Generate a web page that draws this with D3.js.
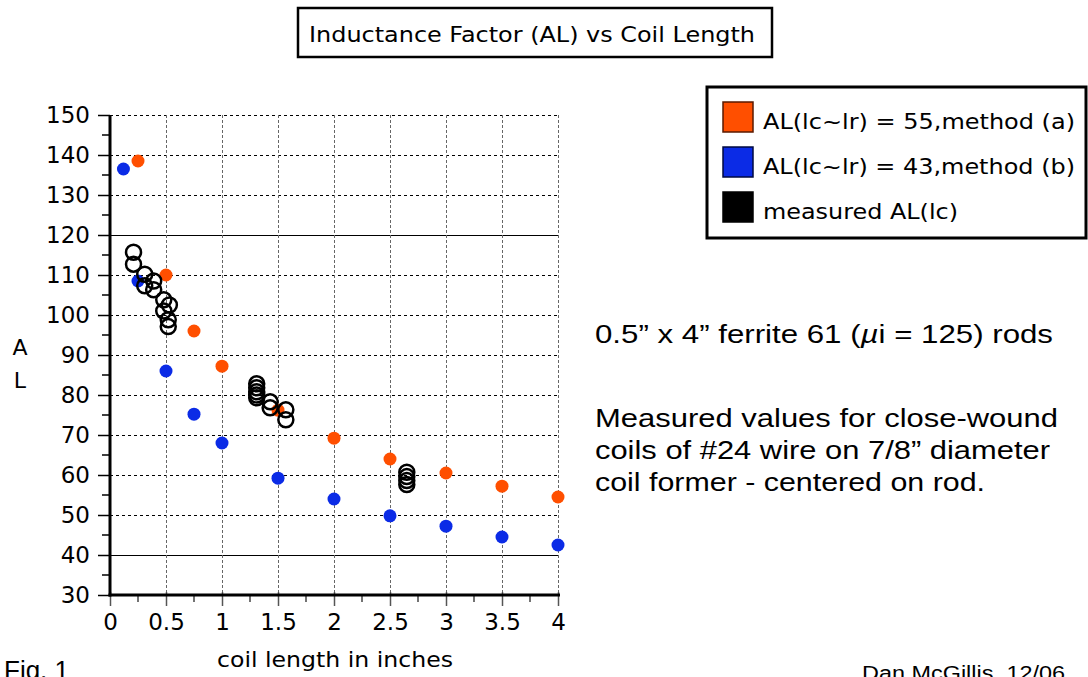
<!DOCTYPE html>
<html>
<head>
<meta charset="utf-8">
<script src="https://cdn.jsdelivr.net/npm/d3@7"></script>
<style>
  body { margin: 0; background: #fff; }
  svg { display: block; }
</style>
</head>
<body>
<svg id="chart" width="1088" height="677"></svg>
<script>
// method (a) and (b) computed values
const calcLengths = [0.25, 0.5, 0.75, 1.0, 1.5, 2.0, 2.5, 3.0, 3.5, 4.0];
const methodA = [138.5, 110, 96, 87.2, 76.2, 69.2, 64, 60.5, 57.2, 54.5];
const blueLengths = [0.12, 0.25, 0.5, 0.75, 1.0, 1.5, 2.0, 2.5, 3.0, 3.5, 4.0];
const methodB = [136.5, 108.5, 86, 75.2, 68, 59.2, 54, 49.8, 47.2, 44.5, 42.5];

// measured AL(lc)
const measLengths = [0.21, 0.21, 0.31, 0.31, 0.39, 0.39, 0.48, 0.53, 0.48, 0.52, 0.52,
  1.31, 1.31, 1.31, 1.31, 1.31, 1.43, 1.43, 1.57, 1.57, 2.65, 2.65, 2.65, 2.65];
const measAL = [115.7, 112.7, 110.2, 107.3, 108.5, 106.3, 103.8, 102.5, 101, 98.8, 97.1,
  82.8, 81.8, 80.8, 80, 79.3, 78.3, 76.8, 76.3, 73.8, 60.7, 59.6, 58.6, 57.6];

const xTicks = [0, 0.5, 1, 1.5, 2, 2.5, 3, 3.5, 4];
const yTicks = [30, 40, 50, 60, 70, 80, 90, 100, 110, 120, 130, 140, 150];

const legendLabels = ["AL(lc~lr) = 55,method (a)", "AL(lc~lr) = 43,method (b)", "measured AL(lc)"];
const legendColors = ["#ff4f00", "#0b2be6", "#000"];
const legendStrokes = ["#5a1a00", "#000a40", "#000"];

const orange = "#ff4f00";
const blue = "#0b2be6";
const tickFont = "'DejaVu Sans', sans-serif";
const helv = "'Liberation Sans', Arial, sans-serif";

const svg = d3.select("#chart");

const x = d3.scaleLinear().domain([0, 4]).range([110, 558]);
const y = d3.scaleLinear().domain([30, 150]).range([595, 115]);

// fit a text to a measured width from the reference
function fit(sel, w) {
  sel.attr("textLength", w).attr("lengthAdjust", "spacingAndGlyphs");
  return sel;
}

// title box
svg.append("rect").attr("x", 298).attr("y", 8).attr("width", 474).attr("height", 49)
  .attr("fill", "none").attr("stroke", "#000").attr("stroke-width", 2.5);
fit(svg.append("text").attr("x", 309).attr("y", 42)
  .style("font-family", tickFont).style("font-size", "22px")
  .text("Inductance Factor (AL) vs Coil Length"), 446);

// grid
const grid = svg.append("g").attr("shape-rendering", "crispEdges");
grid.selectAll("line.h").data(yTicks.filter(d => d > 30)).join("line")
  .attr("x1", x(0)).attr("x2", x(4))
  .attr("y1", d => y(d) + 0.5).attr("y2", d => y(d) + 0.5)
  .attr("stroke", "#000").attr("stroke-width", 1)
  .attr("stroke-dasharray", d => (d === 120 || d === 40) ? null : "3,3");
grid.selectAll("line.v").data(xTicks.filter(d => d > 0)).join("line")
  .attr("x1", d => x(d) + 0.5).attr("x2", d => x(d) + 0.5)
  .attr("y1", y(150)).attr("y2", y(30))
  .attr("stroke", "#666").attr("stroke-width", 1)
  .attr("stroke-dasharray", "3,2");

// y axis
const yAxis = d3.axisLeft(y).tickValues(yTicks).tickSize(12).tickPadding(8);
const gy = svg.append("g").attr("transform", `translate(${x(0)},0)`).call(yAxis);
gy.select(".domain").remove();
gy.selectAll(".tick line").attr("stroke", "#000").attr("stroke-width", 1.5);
gy.selectAll(".tick text").style("font-family", tickFont).style("font-size", "23px").attr("fill", "#000");
const yMinor = d3.range(35, 150, 10);
svg.append("g").selectAll("line").data(yMinor).join("line")
  .attr("x1", x(0) - 8).attr("x2", x(0)).attr("y1", d => y(d)).attr("y2", d => y(d))
  .attr("stroke", "#000").attr("stroke-width", 1.5);

// x axis
const xAxis = d3.axisBottom(x).tickValues(xTicks).tickSize(11).tickPadding(8)
  .tickFormat(d => String(d));
const gx = svg.append("g").attr("transform", `translate(0,${y(30)})`).call(xAxis);
gx.select(".domain").remove();
gx.selectAll(".tick line").attr("stroke", "#555").attr("stroke-width", 1.5).attr("y1", -3);
gx.selectAll(".tick text").style("font-family", tickFont).style("font-size", "23px").attr("fill", "#000");
const xMinor = d3.range(0.25, 4, 0.5);
svg.append("g").selectAll("line").data(xMinor).join("line")
  .attr("x1", d => x(d)).attr("x2", d => x(d)).attr("y1", y(30)).attr("y2", y(30) + 7)
  .attr("stroke", "#444").attr("stroke-width", 1.5);

// axis lines
svg.append("line").attr("x1", x(0)).attr("x2", x(0)).attr("y1", y(150)).attr("y2", y(30) + 1.5)
  .attr("stroke", "#000").attr("stroke-width", 3);
svg.append("line").attr("x1", x(0) - 1.5).attr("x2", x(4) + 2).attr("y1", y(30)).attr("y2", y(30))
  .attr("stroke", "#000").attr("stroke-width", 3);

// axis titles
svg.append("text").attr("x", 20).attr("y", 355).attr("text-anchor", "middle")
  .style("font-family", tickFont).style("font-size", "22px").text("A");
svg.append("text").attr("x", 20).attr("y", 388).attr("text-anchor", "middle")
  .style("font-family", tickFont).style("font-size", "22px").text("L");
fit(svg.append("text").attr("x", 217).attr("y", 667)
  .style("font-family", tickFont).style("font-size", "22px")
  .text("coil length in inches"), 236);

// data
svg.append("g").selectAll("circle").data(calcLengths).join("circle")
  .attr("cx", d => x(d)).attr("cy", (d, i) => y(methodA[i])).attr("r", 6.5)
  .attr("fill", orange);
svg.append("g").selectAll("circle").data(blueLengths).join("circle")
  .attr("cx", d => x(d)).attr("cy", (d, i) => y(methodB[i])).attr("r", 6.5)
  .attr("fill", blue);
svg.append("g").selectAll("circle").data(measLengths).join("circle")
  .attr("cx", d => x(d)).attr("cy", (d, i) => y(measAL[i])).attr("r", 7.5)
  .attr("fill", "none").attr("stroke", "#000").attr("stroke-width", 2.5);

// legend
svg.append("rect").attr("x", 707).attr("y", 87).attr("width", 379).attr("height", 151)
  .attr("fill", "#fff").attr("stroke", "#000").attr("stroke-width", 3);
const leg = svg.append("g").selectAll("g").data(legendLabels).join("g")
  .attr("transform", (d, i) => `translate(723,${102 + i * 45})`);
leg.append("rect").attr("width", 30).attr("height", 30)
  .attr("fill", (d, i) => legendColors[i]).attr("stroke", (d, i) => legendStrokes[i]).attr("stroke-width", 1.5);
leg.append("text").attr("x", 40).attr("y", 27)
  .style("font-family", tickFont).style("font-size", "22px")
  .attr("textLength", (d, i) => [312, 312, 195][i]).attr("lengthAdjust", "spacingAndGlyphs")
  .text(d => d);

// annotation texts
const t1 = svg.append("text").attr("x", 595).attr("y", 343)
  .style("font-family", helv).style("font-size", "25px");
t1.append("tspan").text("0.5” x 4” ferrite 61 (");
t1.append("tspan").style("font-style", "italic").text("µ");
t1.append("tspan").text("i = 125) rods");
fit(t1, 458);

const noteLines = ["Measured values for close-wound", "coils of #24 wire on 7/8” diameter", "coil former - centered on rod."];
const noteWidths = [463, 455, 390];
svg.append("g").selectAll("text").data(noteLines).join("text")
  .attr("x", 595).attr("y", (d, i) => 427 + i * 32)
  .style("font-family", helv).style("font-size", "25px")
  .attr("textLength", (d, i) => noteWidths[i]).attr("lengthAdjust", "spacingAndGlyphs")
  .text(d => d);

svg.append("text").attr("x", 4).attr("y", 679)
  .style("font-family", helv).style("font-size", "26px").text("Fig. 1");
fit(svg.append("text").attr("x", 862).attr("y", 680)
  .style("font-family", helv).style("font-size", "20px").text("Dan McGillis, 12/06"), 203);
</script>
</body>
</html>
